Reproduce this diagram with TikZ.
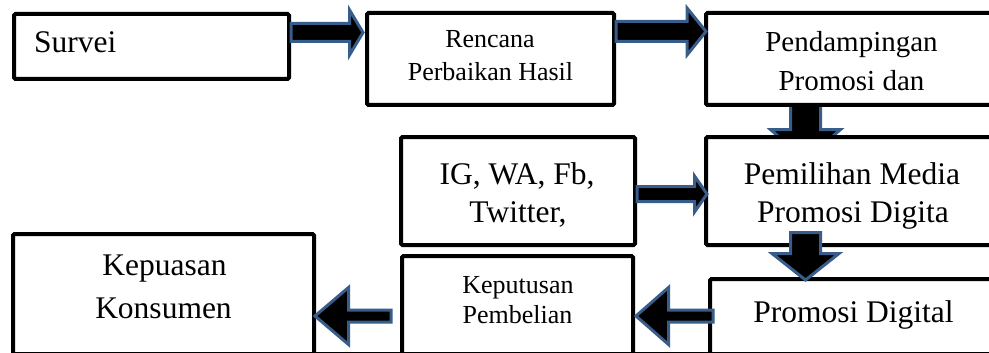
\documentclass[tikz,border=0pt]{standalone}
\usepackage{fontspec}
\setmainfont{Liberation Serif}
\usetikzlibrary{calc}
\definecolor{arrowblue}{HTML}{385D8A}
\pgfdeclarelayer{behind}
\pgfsetlayers{behind,main}
\tikzset{
  box/.style={draw=black, line width=4pt, outer sep=2pt, fill=white, inner sep=0pt, rounded corners=1.5pt},
  bigtext/.style={font=\fontsize{31.5}{38}\selectfont, inner sep=0pt, anchor=base},
  midtext/.style={font=\fontsize{29}{35}\selectfont, inner sep=0pt, anchor=base},
  smalltext/.style={font=\fontsize{26}{31}\selectfont, inner sep=0pt, anchor=base},
  blockarrow/.style={draw=arrowblue, fill=black, line width=3pt, line join=miter, miter limit=4},
}
% #1 start, #2 tip, #3 shaft half width, #4 head half width, #5 head length
\newcommand\blockarr[5]{%
  \draw[blockarrow] let \p1=(#1), \p2=(#2), \n1={atan2(\y2-\y1,\x2-\x1)} in
    ($(\p1)+(\n1+90:#3)$) --
    ($(\p2)+(\n1+180:#5)+(\n1+90:#3)$) --
    ($(\p2)+(\n1+180:#5)+(\n1+90:#4)$) --
    (\p2) --
    ($(\p2)+(\n1+180:#5)+(\n1-90:#4)$) --
    ($(\p2)+(\n1+180:#5)+(\n1-90:#3)$) --
    ($(\p1)+(\n1-90:#3)$) -- cycle;}
\begin{document}
\begin{tikzpicture}[x=1pt,y=-1pt]
\useasboundingbox (0,0) rectangle (989,353);
\clip (0,0) rectangle (989,353);

% boxes
\node[box, minimum width=275pt, minimum height=65pt]  (survei)    at (151.5,46.5) {};
\node[box, minimum width=247pt, minimum height=92pt]  (rencana)   at (490.5,59)   {};
\node[box, minimum width=360pt, minimum height=92pt]  (pendamp)   at (886,59)     {};
\node[box, minimum width=234pt, minimum height=108pt] (ig)        at (518,191)    {};
\node[box, minimum width=360pt, minimum height=108pt] (pemilihan) at (886,191)    {};
\node[box, minimum width=356pt, minimum height=101pt] (promosi)   at (888,329.5)  {};
\node[box, minimum width=231pt, minimum height=124pt] (keputusan) at (517.5,318)  {};
\node[box, minimum width=301pt, minimum height=146pt] (kepuasan)  at (163.5,307)  {};

% texts
\node[bigtext, anchor=base west] (tsurvei) at (34,53) {Survei};
\node[smalltext] (trenc1) at (490,48) {Rencana};
\node[smalltext] (trenc2) at (490.5,81) {Perbaikan Hasil};
\node[midtext] (tpend1) at (851.5,52) {Pendampingan};
\node[midtext] (tpend2) at (851.5,91) {Promosi dan};
\node[bigtext] (tig1) at (517,184) {IG, WA, Fb,};
\node[bigtext] (tig2) at (518,222) {Twitter,};
\node[bigtext] (tpem1) at (852,184) {Pemilihan Media};
\node[bigtext] (tpem2) at (853,222) {Promosi Digita};
\node[bigtext] (tprom) at (853.5,322) {Promosi Digital};
\node[smalltext] (tkep1) at (518,293) {Keputusan};
\node[smalltext] (tkep2) at (517.5,323) {Pembelian};
\node[bigtext] (tkpu1) at (164.5,275) {Kepuasan};
\node[bigtext] (tkpu2) at (163.5,318) {Konsumen};

% arrow end points
\coordinate (a1s) at ($(survei.east)+(0,-14)$);
\coordinate (a1t) at ($(rencana.west)+(-2,-26.5)$);
\coordinate (a2s) at ($(rencana.east)+(0,-27.5)$);
\coordinate (a2t) at ($(pendamp.west)+(2,-27.5)$);
\coordinate (a3s) at ($(pendamp.south)+(-80.5,-2)$);
\coordinate (a3t) at ($(pemilihan.north)+(-80.5,25)$);
\coordinate (a4s) at ($(ig.east)+(0,3)$);
\coordinate (a4t) at ($(pemilihan.west)+(3,3)$);
\coordinate (a5s) at ($(promosi.west)+(5,-13.5)$);
\coordinate (a5t) at ($(keputusan.east)+(1,-2)$);
\coordinate (a6s) at ($(keputusan.west)+(-9,-2)$);
\coordinate (a6t) at ($(kepuasan.east)+(-1,9)$);
\coordinate (a7s) at ($(pemilihan.south)+(-80.5,-14.5)$);
\coordinate (a7t) at ($(promosi.north)+(-82.5,3)$);

% arrows
\begin{pgfonlayer}{behind}
  \blockarr{a3s}{a3t}{15pt}{35pt}{30.5pt}
\end{pgfonlayer}
\blockarr{a1s}{a1t}{9pt}{22.5pt}{13.5pt}
\blockarr{a2s}{a2t}{10pt}{23.5pt}{19pt}
\blockarr{a4s}{a4t}{7.5pt}{18pt}{12.5pt}
\blockarr{a5s}{a5t}{6pt}{28.5pt}{32.5pt}
\blockarr{a6s}{a6t}{6pt}{28.5pt}{33.5pt}
\blockarr{a7s}{a7t}{15pt}{33.5pt}{26.5pt}

% bottom edge line
\draw[line width=1pt] (11,352.6) -- (989,352.6);
\end{tikzpicture}
\end{document}
